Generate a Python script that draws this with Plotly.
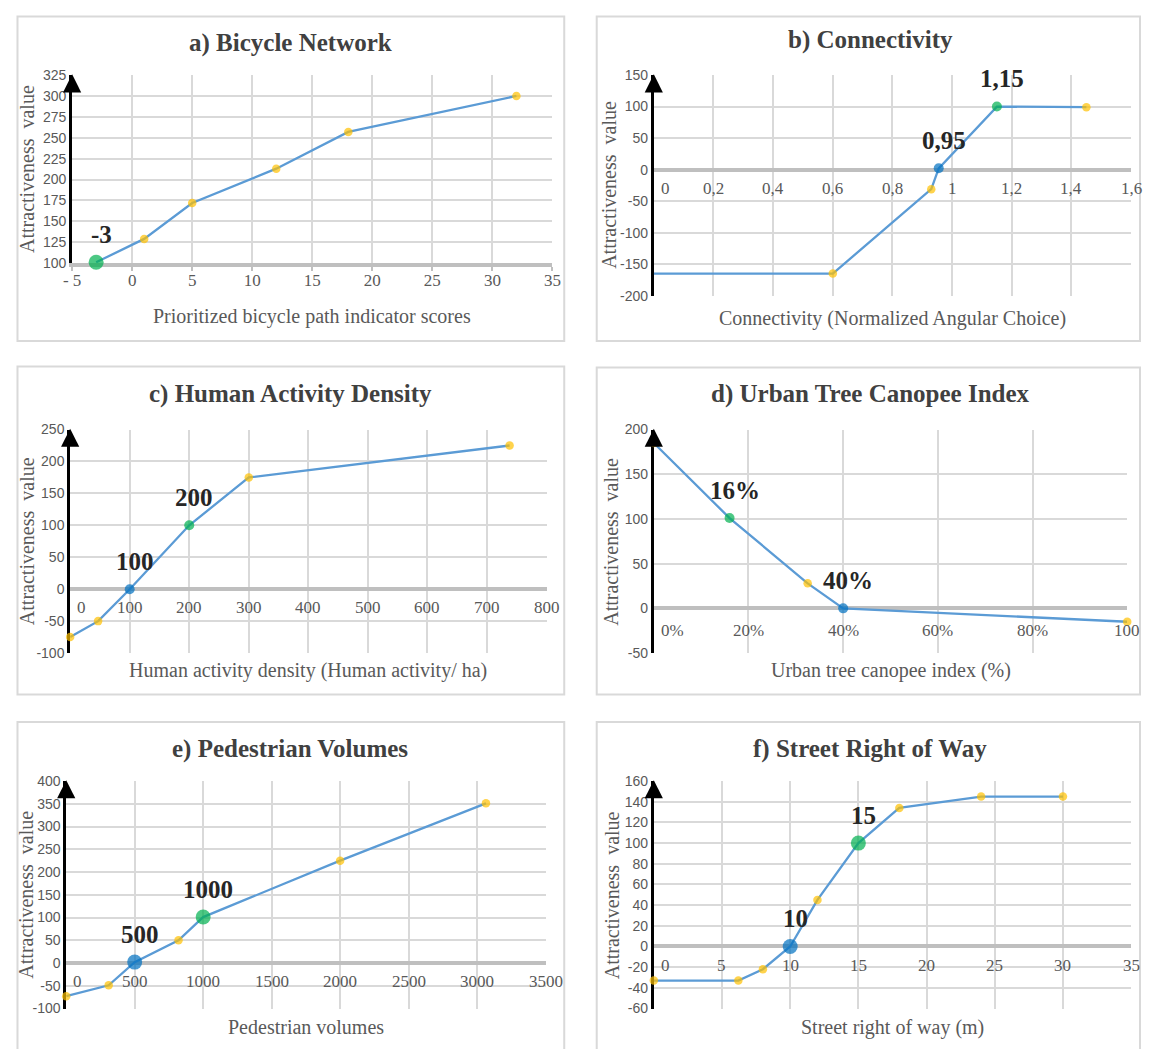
import plotly.graph_objects as go

# ---------------- data ----------------
# a) Bicycle Network
a_x = [-3, 1, 5, 12, 18, 32]
a_y = [101, 129, 172, 213, 257, 300]
a_green_x, a_green_label = -3, "-3"
a_blue_x, a_blue_label = None, None
a_nomarker_x = []
a_xticks = [-5, 0, 5, 10, 15, 20, 25, 30, 35]
a_xticklabels = ["- 5", "0", "5", "10", "15", "20", "25", "30", "35"]
a_yticks = [100, 125, 150, 175, 200, 225, 250, 275, 300, 325]

# b) Connectivity
b_x = [0, 0.6, 0.93, 0.955, 1.15, 1.45]
b_y = [-165, -165, -31, 2, 100, 99]
b_green_x, b_green_label = 1.15, "1,15"
b_blue_x, b_blue_label = 0.955, "0,95"
b_nomarker_x = [0]
b_xticks = [0, 0.2, 0.4, 0.6, 0.8, 1.0, 1.2, 1.4, 1.6]
b_xticklabels = ["0", "0,2", "0,4", "0,6", "0,8", "1", "1,2", "1,4", "1,6"]
b_yticks = [-200, -150, -100, -50, 0, 50, 100, 150]

# c) Human Activity Density
c_x = [0, 47, 100, 200, 300, 738]
c_y = [-75, -50, 0, 100, 175, 225]
c_green_x, c_green_label = 200, "200"
c_blue_x, c_blue_label = 100, "100"
c_nomarker_x = []
c_xticks = [0, 100, 200, 300, 400, 500, 600, 700, 800]
c_xticklabels = ["0", "100", "200", "300", "400", "500", "600", "700", "800"]
c_yticks = [-100, -50, 0, 50, 100, 150, 200, 250]

# d) Urban Tree Canopee Index
d_x = [0, 16, 32.5, 40, 100]
d_y = [185, 101, 28, 0, -15]
d_green_x, d_green_label = 16, "16%"
d_blue_x, d_blue_label = 40, "40%"
d_nomarker_x = []
d_xticks = [0, 20, 40, 60, 80, 100]
d_xticklabels = ["0%", "20%", "40%", "60%", "80%", "100"]
d_yticks = [-50, 0, 50, 100, 150, 200]

# e) Pedestrian Volumes
e_x = [0, 310, 500, 820, 1000, 2000, 3065]
e_y = [-73, -49, 2, 50, 101, 225, 351]
e_green_x, e_green_label = 1000, "1000"
e_blue_x, e_blue_label = 500, "500"
e_nomarker_x = []
e_xticks = [0, 500, 1000, 1500, 2000, 2500, 3000, 3500]
e_xticklabels = ["0", "500", "1000", "1500", "2000", "2500", "3000", "3500"]
e_yticks = [-100, -50, 0, 50, 100, 150, 200, 250, 300, 350, 400]

# f) Street Right of Way
f_x = [0, 6.2, 8, 10, 12, 15, 18, 24, 30]
f_y = [-33, -33, -22, 0, 45, 100, 134, 145, 145]
f_green_x, f_green_label = 15, "15"
f_blue_x, f_blue_label = 10, "10"
f_nomarker_x = []
f_xticks = [0, 5, 10, 15, 20, 25, 30, 35]
f_xticklabels = ["0", "5", "10", "15", "20", "25", "30", "35"]
f_yticks = [-60, -40, -20, 0, 20, 40, 60, 80, 100, 120, 140, 160]

Y_TITLE = "Attractiveness  value"

# ---------------- style / layout ----------------
PAGE_W, PAGE_H = 1158, 1057
OFF = 8  # default body margin of the html page
FIG_W, FIG_H = PAGE_W - 2 * OFF, PAGE_H - 2 * OFF


def px(x):
    v = min(max(x - OFF, 0.5), FIG_W - 1)
    return v / FIG_W


def py(y):
    v = max(y - OFF, 0.5)
    return 1 - v / FIG_H


SERIF = "Liberation Serif, Times New Roman, serif"
SANS = "Liberation Sans, Arial, sans-serif"
LINE = "#5B9BD5"
YELLOW = "#FFC000"
GREEN = "#00B050"
BLUE = "#0070C0"
GRID = "#D9D9D9"
ZERO = "#BFBFBF"
TXT = "#595959"
TITLE = "#404040"
LAB = "#262626"

panels = [
    dict(title="a) Bicycle Network", xtitle="Prioritized bicycle path indicator scores",
         x=a_x, y=a_y, gx=a_green_x, gl=a_green_label, bx=a_blue_x, bl=a_blue_label, nm=a_nomarker_x,
         xt=a_xticks, xtl=a_xticklabels, yt=a_yticks,
         box=(7, 4, 564, 338), plot=(64, 68, 552, 259), big=15, bottom_axis=True, tshift=18,
         ttl_y=35, xttl_y=313, ytx=18),
    dict(title="b) Connectivity", xtitle="Connectivity (Normalized Angular Choice)",
         x=b_x, y=b_y, gx=b_green_x, gl=b_green_label, bx=b_blue_x, bl=b_blue_label, nm=b_nomarker_x,
         xt=b_xticks, xtl=b_xticklabels, yt=b_yticks,
         box=(597, 4, 1153, 338), plot=(655, 68, 1140, 292), big=10, bottom_axis=False, tshift=19,
         ttl_y=32, xttl_y=315, ytx=610),
    dict(title="c) Human Activity Density", xtitle="Human activity density (Human activity/ ha)",
         x=c_x, y=c_y, gx=c_green_x, gl=c_green_label, bx=c_blue_x, bl=c_blue_label, nm=c_nomarker_x,
         xt=c_xticks, xtl=c_xticklabels, yt=c_yticks,
         box=(7, 364, 564, 697), plot=(62, 428, 546, 655), big=10, bottom_axis=False, tshift=18,
         ttl_y=392, xttl_y=673, ytx=18),
    dict(title="d) Urban Tree Canopee Index", xtitle="Urban tree canopee index (%)",
         x=d_x, y=d_y, gx=d_green_x, gl=d_green_label, bx=d_blue_x, bl=d_blue_label, nm=d_nomarker_x,
         xt=d_xticks, xtl=d_xticklabels, yt=d_yticks,
         box=(597, 365, 1153, 697), plot=(655, 428, 1136, 655), big=10, bottom_axis=False, tshift=22,
         ttl_y=392, xttl_y=673, ytx=612),
    dict(title="e) Pedestrian Volumes", xtitle="Pedestrian volumes",
         x=e_x, y=e_y, gx=e_green_x, gl=e_green_label, bx=e_blue_x, bl=e_blue_label, nm=e_nomarker_x,
         xt=e_xticks, xtl=e_xticklabels, yt=e_yticks,
         box=(7, 725, 564, 1075), plot=(58, 785, 545, 1016), big=15, bottom_axis=False, tshift=18,
         ttl_y=752, xttl_y=1035, ytx=17),
    dict(title="f) Street Right of Way", xtitle="Street right of way (m)",
         x=f_x, y=f_y, gx=f_green_x, gl=f_green_label, bx=f_blue_x, bl=f_blue_label, nm=f_nomarker_x,
         xt=f_xticks, xtl=f_xticklabels, yt=f_yticks,
         box=(597, 725, 1153, 1075), plot=(655, 785, 1140, 1016), big=15, bottom_axis=False, tshift=19,
         ttl_y=752, xttl_y=1035, ytx=612),
]

fig = go.Figure()
annotations = []
shapes = []
layout_axes = {}

for i, p in enumerate(panels):
    n = "" if i == 0 else str(i + 1)
    xa, ya = "x" + n, "y" + n
    l, t, r, b = p["plot"]
    xr = [p["xt"][0], p["xt"][-1]]
    yr = [p["yt"][0], p["yt"][-1]]

    # line
    fig.add_trace(go.Scatter(x=p["x"], y=p["y"], mode="lines", xaxis=xa, yaxis=ya,
                             line=dict(color=LINE, width=2.3), hoverinfo="skip", cliponaxis=False))
    # markers
    mx, my, mc, ms = [], [], [], []
    for xv, yv in zip(p["x"], p["y"]):
        if xv in p["nm"]:
            continue
        mx.append(xv)
        my.append(yv)
        if p["gx"] is not None and xv == p["gx"]:
            mc.append(GREEN)
            ms.append(p["big"])
        elif p["bx"] is not None and xv == p["bx"]:
            mc.append(BLUE)
            ms.append(p["big"])
        else:
            mc.append(YELLOW)
            ms.append(8.5)
    fig.add_trace(go.Scatter(x=mx, y=my, mode="markers", xaxis=xa, yaxis=ya,
                             marker=dict(color=mc, size=ms, line=dict(width=0)), cliponaxis=False))

    # threshold labels
    for tx, tl in ((p["gx"], p["gl"]), (p["bx"], p["bl"])):
        if tx is None:
            continue
        ty = p["y"][p["x"].index(tx)]
        annotations.append(dict(x=tx, y=ty, xref=xa, yref=ya, text="<b>" + tl + "</b>", showarrow=False,
                                xshift=5, yshift=28, font=dict(family=SERIF, size=25, color=LAB)))

    xaxis = dict(domain=[px(l), px(r)], range=xr, anchor=ya, tickvals=p["xt"], ticktext=p["xtl"],
                 showgrid=True, gridcolor=GRID, gridwidth=1.5, zeroline=False, layer="below traces",
                 fixedrange=True, showticklabels=p["bottom_axis"],
                 tickfont=dict(family=SERIF, size=17, color=TXT))
    if p["bottom_axis"]:
        xaxis.update(showline=True, linecolor=ZERO, linewidth=3.5, ticks="outside", ticklen=4,
                     tickcolor=ZERO, tickwidth=1.5, ticklabelstandoff=-5)
    yaxis = dict(domain=[py(b), py(t)], range=yr, anchor=xa, tickvals=p["yt"],
                 ticktext=[str(v) for v in p["yt"]], showgrid=True, gridcolor=GRID, gridwidth=1.5,
                 zeroline=not p["bottom_axis"], zerolinecolor=ZERO, zerolinewidth=3.5,
                 showline=True, linecolor="black", linewidth=2.8, layer="below traces", fixedrange=True,
                 tickfont=dict(family=SANS, size=14, color=TXT))
    layout_axes["xaxis" + n] = xaxis
    layout_axes["yaxis" + n] = yaxis

    # x tick labels sitting on the zero line
    if not p["bottom_axis"]:
        for k, (v, tt) in enumerate(zip(p["xt"], p["xtl"])):
            annotations.append(dict(x=v, y=0, xref=xa, yref=ya, text=tt, showarrow=False,
                                    xanchor="left" if k == 0 else "center", xshift=5 if k == 0 else 0,
                                    yshift=-p["tshift"], font=dict(family=SERIF, size=17, color=TXT)))

    # arrow head on the y axis
    annotations.append(dict(x=0, y=1.004, xref=xa + " domain", yref=ya + " domain", ax=0, ay=14,
                            axref="pixel", ayref="pixel", showarrow=True, arrowhead=2, arrowsize=1.3,
                            arrowwidth=2.8, arrowcolor="black", text="", standoff=0))

    # panel title and axis titles
    bl_, bt_, br_, bb_ = p["box"]
    annotations.append(dict(x=px((bl_ + br_) / 2), y=py(p["ttl_y"]), xref="paper", yref="paper",
                            text="<b>" + p["title"] + "</b>", showarrow=False, xanchor="center",
                            yanchor="middle", font=dict(family=SERIF, size=25, color=TITLE)))
    annotations.append(dict(x=px((l + r) / 2), y=py(p["xttl_y"]), xref="paper", yref="paper",
                            text=p["xtitle"], showarrow=False, xanchor="center", yanchor="middle",
                            font=dict(family=SERIF, size=20, color=TXT)))
    annotations.append(dict(x=px(p["ytx"]), y=py((t + b) / 2), xref="paper", yref="paper",
                            text=Y_TITLE, textangle=-90, showarrow=False, xanchor="center",
                            yanchor="middle", font=dict(family=SERIF, size=20, color=TXT)))

    shapes.append(dict(type="rect", xref="paper", yref="paper", x0=px(bl_), x1=px(br_),
                       y0=py(bb_), y1=py(bt_), line=dict(color=GRID, width=2), fillcolor="rgba(0,0,0,0)",
                       layer="below"))

fig.update_layout(**layout_axes)
fig.update_layout(width=FIG_W, height=FIG_H, margin=dict(l=0, r=0, t=0, b=0, pad=0),
                  paper_bgcolor="white", plot_bgcolor="white", showlegend=False,
                  annotations=annotations, shapes=shapes)

fig.write_html("out.html", config={"displayModeBar": False})
